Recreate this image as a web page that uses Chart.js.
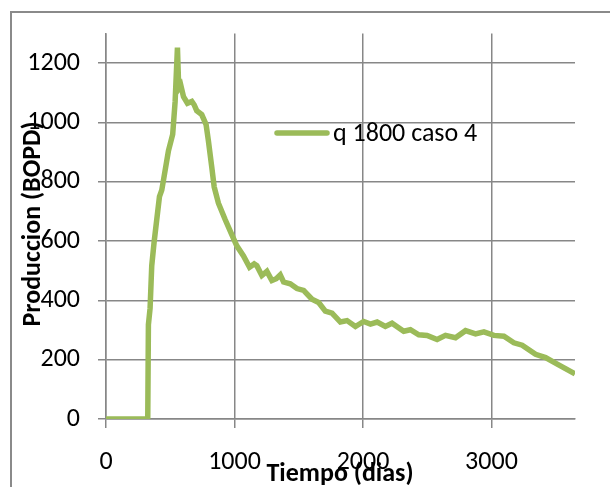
<!DOCTYPE html>
<html>
<head>
<meta charset="utf-8">
<script src="https://cdn.jsdelivr.net/npm/chart.js@4/dist/chart.umd.min.js"></script>
<style>
  html, body { margin: 0; padding: 0; background: #ffffff; }
  #wrap { width: 610px; height: 487px; position: relative; }
</style>
</head>
<body>
<div id="wrap"><canvas id="c" width="610" height="487"></canvas></div>
<script>
// Production history: time in days and oil rate in BOPD
const dias = [0, 325, 330, 343, 356, 374, 416, 434, 447, 486, 519, 538, 556, 566, 582, 603, 634, 668, 686, 706, 745, 779, 797, 823, 842, 875, 928, 979, 1018, 1070, 1117, 1153, 1174, 1213, 1252, 1291, 1325, 1356, 1382, 1434, 1486, 1538, 1603, 1655, 1707, 1759, 1824, 1876, 1941, 2005, 2058, 2110, 2174, 2226, 2317, 2369, 2434, 2499, 2577, 2642, 2720, 2798, 2876, 2941, 3019, 3097, 3174, 3239, 3343, 3421, 3512, 3650];
const caudal = [0, 0, 318, 373, 517, 595, 750, 772, 805, 905, 960, 1071, 1253, 1115, 1126, 1087, 1065, 1071, 1060, 1040, 1027, 993, 938, 850, 783, 728, 672, 622, 584, 550, 512, 523, 517, 484, 498, 467, 473, 486, 462, 456, 440, 434, 404, 393, 364, 357, 327, 332, 312, 329, 320, 327, 312, 323, 296, 301, 284, 282, 268, 282, 274, 298, 287, 294, 282, 279, 257, 249, 218, 207, 185, 152];
const serieNombre = 'q 1800 caso 4';
const yTicks = [0, 200, 400, 600, 800, 1000, 1200];
const xTicks = [0, 1000, 2000, 3000];
const tituloX = 'Tiempo (dias)';
const tituloY = 'Produccion (BOPD)';

const FONT = 'Carlito, Lato, "Open Sans", sans-serif';
const GRID = '#878787';
const VERDE = '#9bbb59';

const puntos = dias.map((d, i) => ({ x: d, y: caudal[i] }));

// Outer frame, axis titles and in-plot legend
const decor = {
  id: 'decor',
  beforeDraw(chart) {
    const ctx = chart.ctx;
    ctx.save();
    ctx.fillStyle = '#ffffff';
    ctx.fillRect(0, 0, chart.width, chart.height);
    ctx.strokeStyle = '#8a8a8a';
    ctx.lineWidth = 2;
    ctx.beginPath();
    ctx.moveTo(11, 600);
    ctx.lineTo(11, 12);
    ctx.lineTo(700, 12);
    ctx.stroke();
    ctx.restore();
  },
  afterDraw(chart) {
    const ctx = chart.ctx;
    const ds = chart.data.datasets[0];
    ctx.save();
    // legend
    ctx.strokeStyle = ds.borderColor;
    ctx.lineWidth = 5.5;
    ctx.lineCap = 'round';
    ctx.beginPath();
    ctx.moveTo(277, 133);
    ctx.lineTo(327, 133);
    ctx.stroke();
    ctx.fillStyle = '#000000';
    ctx.font = '26px ' + FONT;
    ctx.textAlign = 'left';
    ctx.textBaseline = 'middle';
    ctx.fillText(ds.label, 333, 134);
    // axis titles
    ctx.font = 'bold 26px ' + FONT;
    ctx.textAlign = 'center';
    ctx.fillText(tituloX, 340, 474);
    ctx.translate(33, 224);
    ctx.rotate(-Math.PI / 2);
    ctx.fillText(tituloY, 0, 0);
    ctx.restore();
  }
};

new Chart(document.getElementById('c'), {
  type: 'line',
  data: {
    datasets: [{
      label: serieNombre,
      data: puntos,
      borderColor: VERDE,
      borderWidth: 5.5,
      pointRadius: 0,
      tension: 0,
      fill: false
    }]
  },
  options: {
    responsive: false,
    animation: false,
    layout: { padding: { left: 0, top: 28, right: 35, bottom: 0 } },
    plugins: { legend: { display: false }, tooltip: { enabled: false } },
    scales: {
      x: {
        type: 'linear',
        min: 0,
        max: 3650,
        afterBuildTicks: s => { s.ticks = xTicks.map(v => ({ value: v })); },
        afterFit: s => { s.height = 68; },
        grid: { color: GRID, lineWidth: 1.5, tickLength: 9, tickColor: GRID },
        border: { color: GRID, width: 1.5 },
        ticks: { color: '#000000', font: { family: FONT, size: 26 }, padding: 19, maxRotation: 0, callback: v => String(v) }
      },
      y: {
        min: 0,
        max: 1300,
        afterBuildTicks: s => { s.ticks = yTicks.map(v => ({ value: v })); },
        afterFit: s => { s.width = 106; },
        grid: { color: GRID, lineWidth: 1.5, tickLength: 8, tickColor: GRID },
        border: { color: GRID, width: 1.5 },
        ticks: { color: '#000000', font: { family: FONT, size: 26 }, padding: 18, callback: v => String(v) }
      }
    }
  },
  plugins: [decor]
});
</script>
</body>
</html>
